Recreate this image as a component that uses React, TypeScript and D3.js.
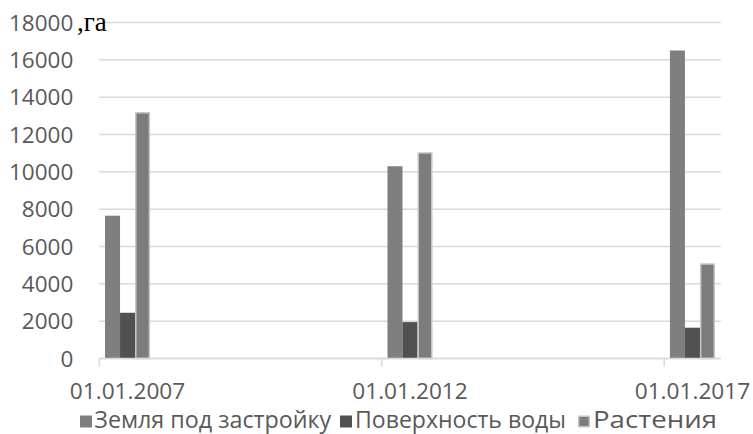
import React from "react";
import * as d3 from "d3";

// Land use areas by date, hectares
const years = [2007, 2012, 2017];
const dateLabels = ["01.01.2007", "01.01.2012", "01.01.2017"];
const seriesNames = ["Земля под застройку", "Поверхность воды", "Растения"];
const builtUp = [7650, 10300, 16500];
const water = [2450, 1950, 1650];
const plants = [13200, 11050, 5100];
const yTicks = [0, 2000, 4000, 6000, 8000, 10000, 12000, 14000, 16000, 18000];

const seriesValues = [builtUp, water, plants];
const fills = ["#7f7f7f", "#515151", "#7c7c7c"];
const strokes = ["none", "none", "#c4c4c4"];

const W = 753;
const H = 434;
const left = 99.3;
const right = 720.7;
const top = 22.5;
const bottom = 358.5;
const font = "'Open Sans', 'Noto Sans', sans-serif";
const textColor = "#595959";

export default function App() {
  // one slot per year on a date axis, ticks every five years
  const x = d3.scaleLinear().domain([2007, 2018]).range([left, right]);
  const y = d3.scaleLinear().domain([0, 18000]).range([bottom, top]);
  const slot = x(2008) - x(2007);
  const inner = d3
    .scaleBand<number>()
    .domain([0, 1, 2])
    .range([0, slot])
    .paddingInner(0)
    .paddingOuter(0.38);

  const legendItems = [
    { sq: 80, tx: 94.3, len: 237 },
    { sq: 340, tx: 355, len: 211 },
    { sq: 578, tx: 593, len: 124 },
  ];

  return (
    <svg
      width={W}
      height={H}
      style={{ position: "absolute", left: 0, top: 0, background: "#fff" }}
    >
      {/* gridlines */}
      {yTicks.map((t) => (
        <line
          key={"g" + t}
          x1={left}
          x2={right}
          y1={y(t)}
          y2={y(t)}
          stroke="#d9d9d9"
          strokeWidth={1.5}
        />
      ))}
      {/* y tick labels */}
      {yTicks.map((t) => (
        <text
          key={"l" + t}
          x={73.3}
          y={y(t) + 8}
          textAnchor="end"
          fontFamily={font}
          fontSize={22.5}
          fill={textColor}
        >
          {t}
        </text>
      ))}
      <text
        x={77}
        y={31}
        fontFamily="'Liberation Serif', 'DejaVu Serif', serif"
        fontSize={27}
        fill="#000"
      >
        ,га
      </text>

      {/* bars */}
      {years.map((yr, i) =>
        seriesValues.map((vals, s) => {
          const x0 = x(yr) + (inner(s) as number);
          const bw = inner.bandwidth();
          const hasStroke = strokes[s] !== "none";
          const inset = hasStroke ? 0.75 : 0;
          return (
            <rect
              key={yr + "-" + s}
              x={x0 + inset}
              y={y(vals[i]) + inset}
              width={bw - inset * 2}
              height={y(0) - y(vals[i]) - inset}
              fill={fills[s]}
              stroke={strokes[s]}
              strokeWidth={hasStroke ? 1.5 : 0}
            />
          );
        })
      )}

      {/* x axis */}
      <line
        x1={left}
        x2={right}
        y1={bottom}
        y2={bottom}
        stroke="#d9d9d9"
        strokeWidth={1.5}
      />
      {years.map((yr) => (
        <line
          key={"t" + yr}
          x1={x(yr)}
          x2={x(yr)}
          y1={bottom}
          y2={bottom + 8}
          stroke="#d9d9d9"
          strokeWidth={1.5}
        />
      ))}
      {years.map((yr, i) => (
        <text
          key={"x" + yr}
          x={x(yr) + slot / 2}
          y={398.5}
          textAnchor="middle"
          fontFamily={font}
          fontSize={22}
          fill={textColor}
          textLength={115.5}
          lengthAdjust="spacingAndGlyphs"
        >
          {dateLabels[i]}
        </text>
      ))}

      {/* legend */}
      {seriesNames.map((name, s) => (
        <g key={"lg" + s}>
          <rect
            x={legendItems[s].sq + (strokes[s] !== "none" ? 0.75 : 0)}
            y={415.5 + (strokes[s] !== "none" ? 0.75 : 0)}
            width={strokes[s] !== "none" ? 10.5 : 12}
            height={strokes[s] !== "none" ? 10.5 : 12}
            fill={fills[s]}
            stroke={strokes[s]}
            strokeWidth={strokes[s] !== "none" ? 1.5 : 0}
          />
          <text
            x={legendItems[s].tx}
            y={428}
            fontFamily={font}
            fontSize={23}
            fill={textColor}
            textLength={legendItems[s].len}
            lengthAdjust="spacingAndGlyphs"
          >
            {name}
          </text>
        </g>
      ))}
    </svg>
  );
}
